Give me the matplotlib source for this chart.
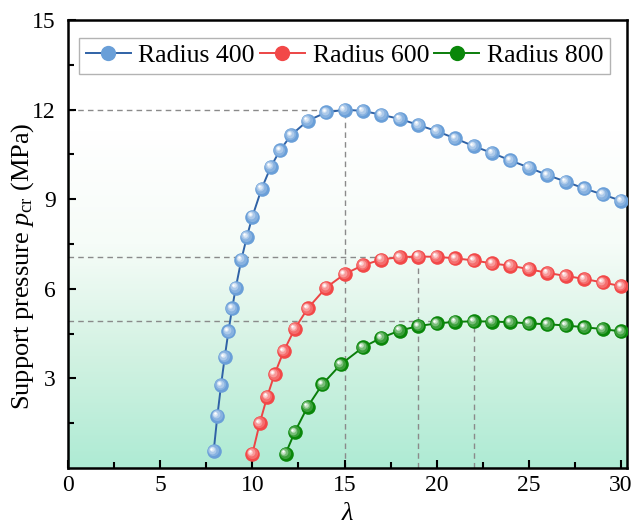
import numpy as np
import matplotlib
matplotlib.use("Agg")
import matplotlib.pyplot as plt
from matplotlib.lines import Line2D
from matplotlib.colors import to_rgb, LinearSegmentedColormap
from matplotlib.transforms import offset_copy

plt.rcParams['font.family'] = ['Liberation Serif', 'DejaVu Serif']
plt.rcParams['mathtext.fontset'] = 'custom'
plt.rcParams['mathtext.rm'] = 'Liberation Serif'
plt.rcParams['mathtext.it'] = 'Liberation Serif:italic'

# data
x400 = [7.9, 8.1, 8.3, 8.5, 8.7, 8.9, 9.1, 9.4, 9.7, 10.0, 10.5, 11.0, 11.5, 12.1, 13, 14,
        15, 16, 17, 18, 19, 20, 21, 22, 23, 24, 25, 26, 27, 28, 29, 30]
y400 = [0.56, 1.74, 2.77, 3.71, 4.57, 5.34, 6.04, 6.97, 7.74, 8.42, 9.35, 10.09, 10.64, 11.15, 11.63, 11.91,
        12.0, 11.96, 11.83, 11.69, 11.49, 11.28, 11.04, 10.78, 10.55, 10.30, 10.06, 9.81, 9.59, 9.36, 9.16, 8.95]

x600 = [10.0, 10.4, 10.8, 11.2, 11.7, 12.3, 13, 14,
        15, 16, 17, 18, 19, 20, 21, 22, 23, 24, 25, 26, 27, 28, 29, 30]
y600 = [0.47, 1.50, 2.38, 3.13, 3.91, 4.66, 5.34, 6.04,
        6.49, 6.79, 6.98, 7.06, 7.08, 7.07, 7.02, 6.95, 6.85, 6.77, 6.66, 6.53, 6.43, 6.33, 6.21, 6.09]

x800 = [11.8, 12.3, 13, 13.8, 14.8,
        16, 17, 18, 19, 20, 21, 22, 23, 24, 25, 26, 27, 28, 29, 30]
y800 = [0.47, 1.20, 2.05, 2.80, 3.47,
        4.04, 4.36, 4.60, 4.75, 4.84, 4.89, 4.91, 4.90, 4.88, 4.84, 4.81, 4.77, 4.71, 4.65, 4.57]

labels = ["Radius 400", "Radius 600", "Radius 800"]
ball_colors = ["#6a9fd8", "#f24848", "#0a870a"]
line_colors = ["#2f62a6", "#ec4545", "#0a7d0a"]


def blend(c, t):
    r, g, b = to_rgb(c)
    return (r + (1 - r) * t, g + (1 - g) * t, b + (1 - b) * t)


fig = plt.figure(figsize=(6.42, 5.31), dpi=100)
ax = fig.add_axes([0.106, 0.119, 0.870, 0.843])

# background gradient (white on top, mint at the bottom)
cmap = LinearSegmentedColormap.from_list("bg", ["#aeebd4", "#d2f2e2", "#f6fcf8", "#ffffff", "#ffffff"])
grad = np.linspace(0, 1, 256).reshape(-1, 1)
ax.imshow(grad, cmap=cmap, aspect='auto', extent=[0, 30.3, 0, 15], origin='lower', zorder=0)

series = [(x400, y400), (x600, y600), (x800, y800)]

# dashed guide lines at each peak
for xs, ys in series:
    i = int(np.argmax(ys))
    ax.plot([0, xs[i]], [ys[i], ys[i]], ls=(0, (4, 3)), color="#8a8a8a", lw=1.0, zorder=1)
    ax.plot([xs[i], xs[i]], [0, ys[i]], ls=(0, (4, 3)), color="#8a8a8a", lw=1.0, zorder=1)

# curves with glossy ball markers
layers = [(10.5, 0.0, 0.0), (8.0, 0.2, 0.5), (5.6, 0.45, 1.0), (3.3, 0.75, 1.5), (1.7, 1.0, 1.8)]
for k, (xs, ys) in enumerate(series):
    ax.plot(xs, ys, color=line_colors[k], lw=1.4, zorder=2)
    for ms, t, off in layers:
        tr = offset_copy(ax.transData, fig=fig, x=-off, y=off, units='points')
        ax.plot(xs, ys, ls='none', marker='o', ms=ms, mew=0,
                mfc=blend(ball_colors[k], t), transform=tr, zorder=3)

ax.set_xlim(0, 30.3)
ax.set_ylim(0, 15)
ax.set_xticks([0, 5, 10, 15, 20, 25, 30])
ax.set_yticks([3, 6, 9, 12, 15])
ax.set_xticks(np.arange(2.5, 30, 5), minor=True)
ax.set_yticks(np.arange(1.5, 15, 3), minor=True)
ax.tick_params(which='both', direction='in', top=False, right=False, labelsize=17, width=1.5)
ax.tick_params(which='major', length=6)
ax.tick_params(axis='x', which='major', pad=5)
ax.tick_params(axis='y', which='major', pad=9)
ax.tick_params(which='minor', length=4)
for s in ax.spines.values():
    s.set_linewidth(1.8)

ax.set_xlabel(r"$\mathit{\lambda}$", fontsize=19, labelpad=5)
ax.set_ylabel(r"Support pressure $\mathit{p}_{\rm cr}$ (MPa)", fontsize=19)
ax.yaxis.set_label_coords(-0.058, 0.45)

handles = [Line2D([], [], color=line_colors[k], lw=1.4, marker='o', ms=11, mew=0,
                  mfc=ball_colors[k]) for k in range(3)]
leg = ax.legend(handles, labels, ncol=3, loc='upper left', bbox_to_anchor=(0.02, 0.96),
                fontsize=18.5, frameon=True, fancybox=False, edgecolor="#a0a0a0",
                handlelength=1.75, handletextpad=0.3, columnspacing=0.2, borderpad=0.25,
                borderaxespad=0)
leg.get_frame().set_linewidth(1.0)

fig.savefig("out.png", dpi=100)
